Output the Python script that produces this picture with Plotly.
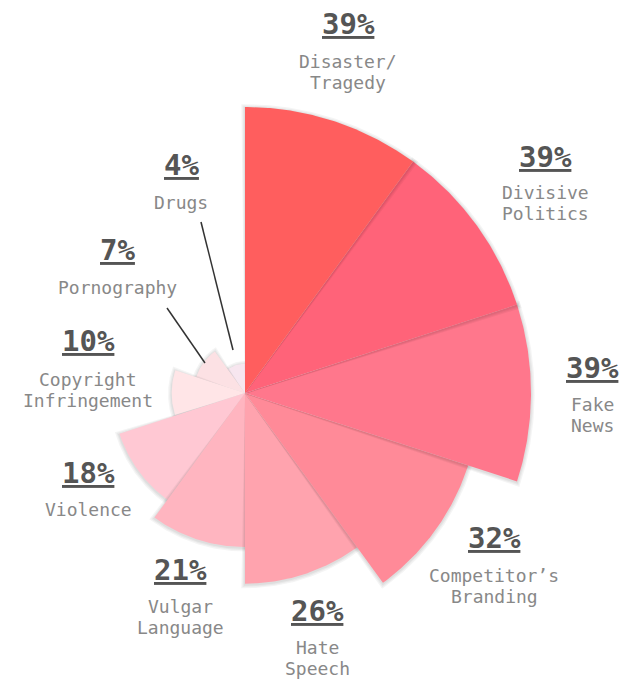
import numpy as np
import plotly.graph_objects as go

# data
categories = ["Disaster/\nTragedy", "Divisive\nPolitics", "Fake\nNews", "Competitor’s\nBranding",
              "Hate\nSpeech", "Vulgar\nLanguage", "Violence", "Copyright\nInfringement",
              "Pornography", "Drugs"]
values = [39, 39, 39, 32, 26, 21, 18, 10, 7, 4]
colors = ["#FF5E5E", "#FF6379", "#FF778C", "#FF8A98", "#FFA3AE",
          "#FFB5C0", "#FFC8D3", "#FFE5E7", "#FCE1E4", "#F7E6EF"]

# label anchors in pixels: (center x, percent y, first name line y)
label_pos = [(348, 24, 62), (545, 157, 192), (592, 368, 404), (494, 538, 575),
             (317, 611, 647), (180, 570, 606), (88, 473, 510), (88, 341, 379),
             (117, 250, 287), (181, 165, 202)]
leaders = [((201, 222), (233, 350)), ((167, 308), (205, 363))]

W, H = 629, 681
OFF = 8  # page body margin
CX, CY = 245 - OFF, 393 - OFF
k = 286 / 39  # px per percent

step = 360 / len(values)


def px(x, y):
    return (x - OFF) / W, 1 - (y - OFF) / H


def wedge(r, i, d=0.0, dy=0.0):
    # sector from the centre; d widens it a little for the shadow
    a0 = np.radians(90 - step * i)
    a1 = np.radians(90 - step * (i + 1))
    ext = d / r
    t = np.linspace(a0 + ext, a1 - ext, 80)
    xs = np.concatenate([[0], (r + d) * np.cos(t), [0]])
    ys = np.concatenate([[0], (r + d) * np.sin(t), [0]]) - dy
    return xs, ys


fig = go.Figure()
n = len(values)
for i in reversed(range(n)):
    for d in (0.5, 0.32, 0.16):
        xs, ys = wedge(values[i], i, d, 0.12)
        fig.add_trace(go.Scatter(x=xs, y=ys, fill="toself", mode="lines",
                                 line=dict(width=0), fillcolor="rgba(0,0,0,0.045)",
                                 hoverinfo="skip", showlegend=False))
    xs, ys = wedge(values[i], i)
    fig.add_trace(go.Scatter(x=xs, y=ys, fill="toself", mode="lines",
                             line=dict(width=0, color=colors[i]), fillcolor=colors[i],
                             name=categories[i].replace("\n", " "),
                             hoverinfo="name", showlegend=False))

annotations = []
for cat, val, (lx, py, ny) in zip(categories, values, label_pos):
    x, y = px(lx, py)
    annotations.append(dict(x=x, y=y, xref="paper", yref="paper",
                            text="<b><u>%d%%</u></b>" % val, showarrow=False,
                            xanchor="center", yanchor="middle",
                            font=dict(family="DejaVu Sans Mono", size=29, color="#555555")))
    for j, line in enumerate(cat.split("\n")):
        x, y = px(lx, ny + 21 * j)
        annotations.append(dict(x=x, y=y, xref="paper", yref="paper",
                                text=line, showarrow=False, xanchor="center", yanchor="middle",
                                font=dict(family="DejaVu Sans Mono", size=18, color="#888888")))

shapes = []
for (x0, y0), (x1, y1) in leaders:
    a0, b0 = px(x0, y0)
    a1, b1 = px(x1, y1)
    shapes.append(dict(type="line", xref="paper", yref="paper",
                       x0=a0, y0=b0, x1=a1, y1=b1,
                       line=dict(color="#333333", width=1.5)))

fig.update_layout(
    width=W, height=H,
    margin=dict(l=0, r=0, t=0, b=0),
    paper_bgcolor="white", plot_bgcolor="white",
    xaxis=dict(range=[-CX / k, (W - CX) / k], visible=False, fixedrange=True),
    yaxis=dict(range=[-(H - CY) / k, CY / k], visible=False, fixedrange=True),
    annotations=annotations, shapes=shapes,
)

fig.write_html("out.html")
